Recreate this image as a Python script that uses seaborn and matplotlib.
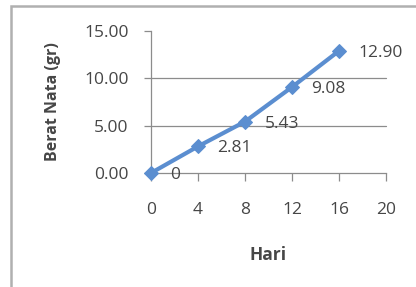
import matplotlib
matplotlib.use("Agg")
import matplotlib.pyplot as plt
import seaborn as sns
import pandas as pd
from matplotlib.patches import Rectangle

hari = [0, 4, 8, 12, 16]
berat = [0.0, 2.81, 5.43, 9.08, 12.90]
labels = ["0", "2.81", "5.43", "9.08", "12.90"]
xticks = [0, 4, 8, 12, 16, 20]
yticks = [0, 5, 10, 15]

sns.set_theme(style="white")
plt.rcParams['font.family'] = ['Open Sans', 'DejaVu Sans']

fig = plt.figure(figsize=(4.16, 2.87), dpi=100)
ax = fig.add_axes([151/416, 1-173/287, (386-151)/416, (173-31)/287])

df = pd.DataFrame({"Hari": hari, "Berat": berat})
color = "#5B8ED0"
sns.lineplot(data=df, x="Hari", y="Berat", ax=ax, color=color, linewidth=3,
             marker="D", markersize=7.5, markeredgecolor=color, zorder=3)

txtc = "#464646"
fs = 12.5
for x, y, t in zip(hari, berat, labels):
    ax.annotate(t, (x, y), xytext=(14, -1.5), textcoords="offset points",
                fontsize=fs, color=txtc, va="center", ha="left")

ax.set_xlim(0, 20)
ax.set_ylim(0, 15)
ax.set_xticks(xticks)
ax.set_yticks(yticks)
ax.set_yticklabels([f"{v:.2f}" for v in yticks])
for v in [5, 10]:
    ax.axhline(v, color="#8c8c8c", linewidth=0.9, zorder=1)

for s in ["top", "right"]:
    ax.spines[s].set_visible(False)
for s in ["left", "bottom"]:
    ax.spines[s].set_color("#8c8c8c")
    ax.spines[s].set_linewidth(0.9)
ax.tick_params(axis="x", direction="out", length=6, width=0.9, color="#8c8c8c", labelsize=fs,
               labelcolor=txtc, pad=15, bottom=True)
ax.tick_params(axis="y", direction="out", length=5, width=0.9, color="#8c8c8c", labelsize=fs,
               labelcolor=txtc, pad=11, left=True)

ax.set_xlabel("Hari", fontsize=fs, fontweight="bold", color=txtc, labelpad=20)
ax.set_ylabel("Berat Nata (gr)", fontsize=fs - 1, fontweight="bold", color=txtc, labelpad=17)
for ln in ax.lines:
    ln.set_clip_on(False)

fig.patches.append(Rectangle((11/416, -0.1), 1.2, 1-6/287+0.1, transform=fig.transFigure,
                             fill=False, edgecolor="#b0b0b0", linewidth=1.8))

fig.savefig("out.png", dpi=100)
